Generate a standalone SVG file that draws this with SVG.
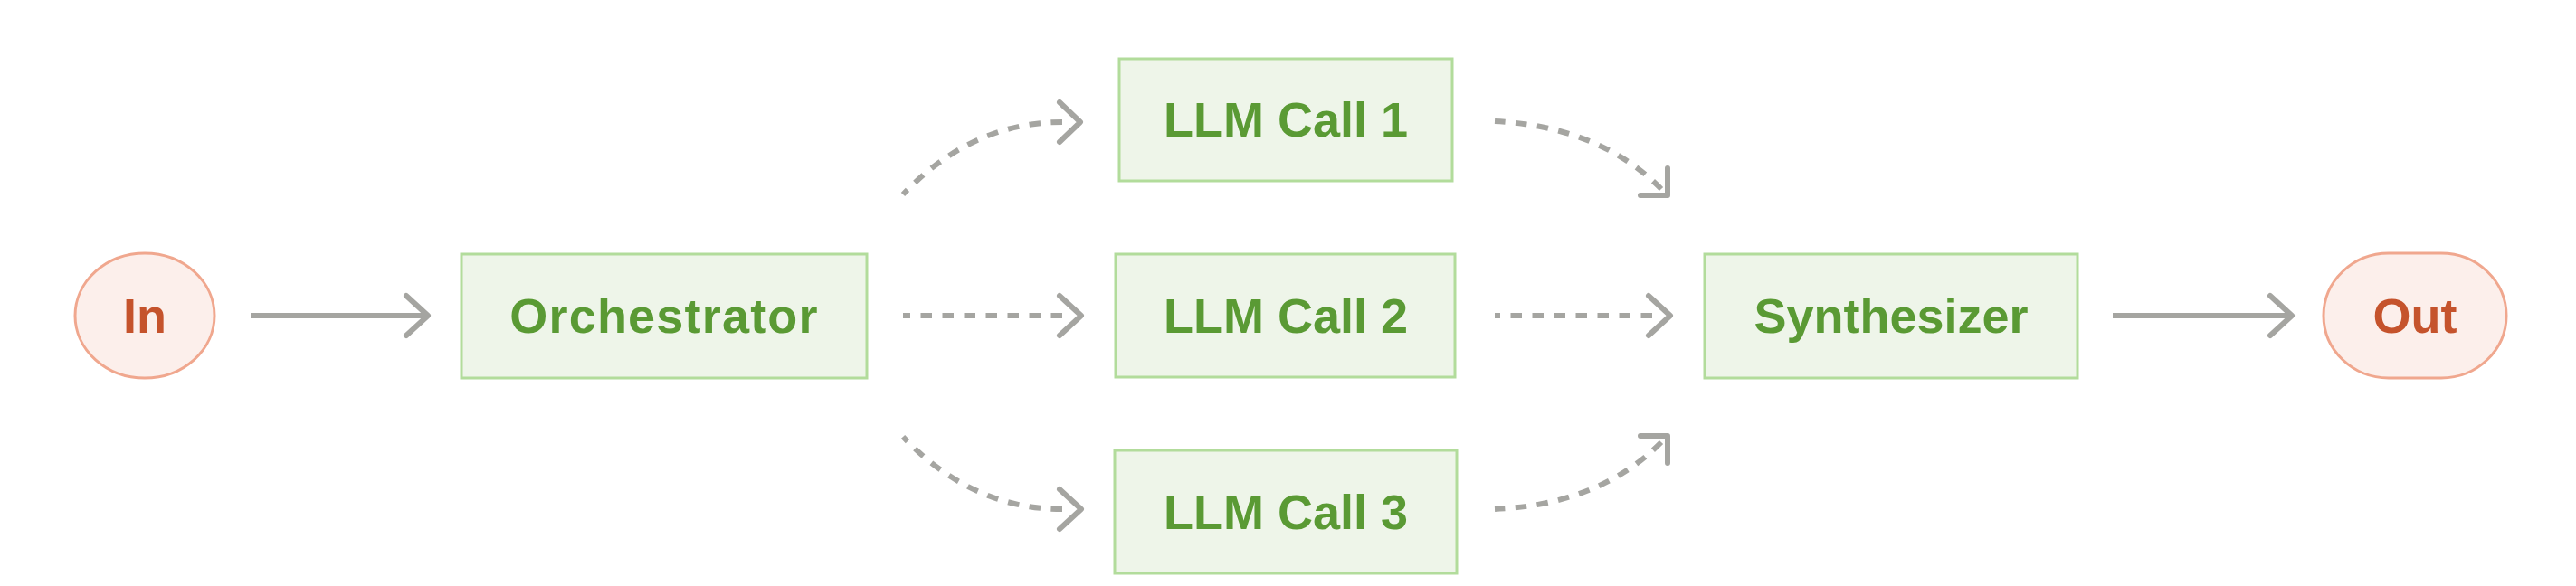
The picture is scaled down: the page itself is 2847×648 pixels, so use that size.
<svg xmlns="http://www.w3.org/2000/svg" width="2847" height="648" viewBox="0 0 2847 648">
<style>
.box{fill:#eef5e9;stroke:#b2dc9b;stroke-width:3}
.term{fill:#fcefeb;stroke:#f0a78e;stroke-width:3}
.lbl{font-family:"Liberation Sans",Arial,sans-serif;font-weight:bold;font-size:54px;text-anchor:middle}
.g{fill:#5a9a34}
.o{fill:#c5532c}
.ln{fill:none;stroke:#a5a5a1;stroke-width:6}
.dash{stroke-dasharray:12.5 11.5}
.head{fill:none;stroke:#a5a5a1;stroke-width:6;stroke-linecap:round;stroke-linejoin:round}
</style>
<rect width="2847" height="648" fill="#ffffff"/>
<g id="connectors">
  <path class="ln" d="M277,349 L470,349"/>
  <path class="head" d="M449,327 L473,349 L449,371"/>
  <path class="ln dash" d="M1174,135 Q1074,135 998,215"/>
  <path class="head" d="M1171,113 L1194,135 L1171,157"/>
  <path class="ln dash" d="M1174,349 L998,349"/>
  <path class="head" d="M1171,327 L1195,349 L1171,371"/>
  <path class="ln dash" d="M1174,563 Q1074,563 998,483"/>
  <path class="head" d="M1171,541 L1195,563 L1171,585"/>
  <path class="ln dash" d="M1836,209 Q1768,140 1652,134"/>
  <path class="head" d="M1843,186 L1843,216 L1813,216"/>
  <path class="ln dash" d="M1826,349 L1652,349"/>
  <path class="head" d="M1822,327 L1846,349 L1822,371"/>
  <path class="ln dash" d="M1836,489 Q1768,558 1652,563"/>
  <path class="head" d="M1843,512 L1843,482 L1813,482"/>
  <path class="ln" d="M2335,349 L2530,349"/>
  <path class="head" d="M2509,327 L2533,349 L2509,371"/>
</g>
<g id="in">
  <rect class="term" x="83" y="280" width="154" height="138" rx="77" ry="69"/>
  <text class="lbl o" x="160" y="368">In</text>
</g>
<g id="orchestrator">
  <rect class="box" x="510" y="281" width="448" height="137"/>
  <text class="lbl g" x="734" y="368" letter-spacing="1.2">Orchestrator</text>
</g>
<g id="llm1">
  <rect class="box" x="1237" y="65" width="368" height="135"/>
  <text class="lbl g" x="1421" y="151">LLM Call 1</text>
</g>
<g id="llm2">
  <rect class="box" x="1233" y="281" width="375" height="136"/>
  <text class="lbl g" x="1421" y="368">LLM Call 2</text>
</g>
<g id="llm3">
  <rect class="box" x="1232" y="498" width="378" height="136"/>
  <text class="lbl g" x="1421" y="585">LLM Call 3</text>
</g>
<g id="synthesizer">
  <rect class="box" x="1884" y="281" width="412" height="137"/>
  <text class="lbl g" x="2090" y="368">Synthesizer</text>
</g>
<g id="out">
  <rect class="term" x="2568" y="280" width="202" height="138" rx="72" ry="69"/>
  <text class="lbl o" x="2669" y="368">Out</text>
</g>
</svg>
